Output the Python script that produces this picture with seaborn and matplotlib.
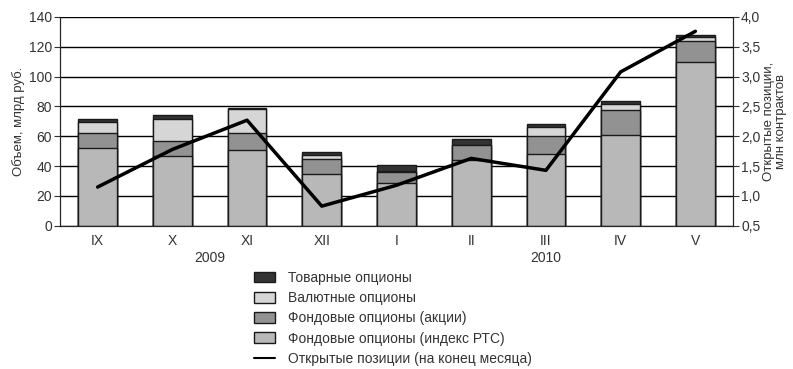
import numpy as np
import pandas as pd
import matplotlib
matplotlib.use('Agg')
import matplotlib.pyplot as plt
import seaborn as sns
from matplotlib.patches import Patch
from matplotlib.lines import Line2D
from matplotlib.ticker import FuncFormatter, MultipleLocator

months = ['IX', 'X', 'XI', 'XII', 'I', 'II', 'III', 'IV', 'V']
index_rts = [52, 47, 51, 35, 29, 44, 48, 61, 110]
stocks = [10, 10, 11, 10, 7, 10, 12.5, 16.5, 14]
currency = [7.5, 14.5, 16, 2.5, 0.5, 0.5, 6, 4, 2.5]
commodity = [2, 2.5, 1, 2, 4.5, 3.5, 2, 2.5, 1.5]
open_pos = [1.15, 1.78, 2.27, 0.83, 1.18, 1.63, 1.43, 3.08, 3.76]

labels = ['Товарные опционы', 'Валютные опционы', 'Фондовые опционы (акции)',
          'Фондовые опционы (индекс РТС)']
line_label = 'Открытые позиции (на конец месяца)'

sns.set_style('white')
plt.rcParams['font.family'] = ['Liberation Sans', 'DejaVu Sans']

df = pd.DataFrame({'month': months, 'index': index_rts, 'stocks': stocks,
                   'currency': currency, 'commodity': commodity})
df['c1'] = df['index']
df['c2'] = df['c1'] + df['stocks']
df['c3'] = df['c2'] + df['currency']
df['c4'] = df['c3'] + df['commodity']

colors = {'c4': '#333333', 'c3': '#d6d6d6', 'c2': '#929292', 'c1': '#b8b8b8'}
txt = '#333333'

fig = plt.figure(figsize=(7.93, 3.69), dpi=100)
ax = fig.add_axes([0.076, 0.388, 0.848, 0.566])

for col in ['c4', 'c3', 'c2', 'c1']:
    sns.barplot(data=df, x='month', y=col, color=colors[col], width=0.52,
                edgecolor='#1a1a1a', linewidth=1, saturation=1, ax=ax)

ax.set_ylim(0, 140)
ax.set_xlim(-0.5, len(months) - 0.5)
ax.yaxis.set_major_locator(MultipleLocator(20))
ax.grid(axis='y', color='black', linewidth=1)
ax.set_axisbelow(True)
ax.set_xlabel('')
ax.set_ylabel('Объем, млрд руб.', fontsize=9.5, color=txt, labelpad=3)
ax.spines['top'].set_visible(False)
for s in ['left', 'bottom', 'right']:
    ax.spines[s].set_color('black')
ax.tick_params(axis='x', length=0, labelsize=10, colors=txt, pad=6)
ax.set_xticks(np.arange(-0.5, len(months) + 0.5), minor=True)
ax.tick_params(axis='x', which='minor', length=5, direction='out', color='black')
ax.tick_params(axis='y', length=4, direction='out', labelsize=10,
               colors=txt, left=True, pad=2)
ax.text(1.5, -0.12, '2009', transform=ax.get_xaxis_transform(),
        ha='center', va='top', fontsize=10, color=txt)
ax.text(6, -0.12, '2010', transform=ax.get_xaxis_transform(),
        ha='center', va='top', fontsize=10, color=txt)

ax2 = ax.twinx()
sns.lineplot(x=np.arange(len(months)), y=open_pos, color='black',
             linewidth=2.5, ax=ax2)
ax2.set_ylim(0.5, 4.0)
ax2.yaxis.set_major_locator(MultipleLocator(0.5))
ax2.yaxis.set_major_formatter(FuncFormatter(lambda v, p: f'{v:.1f}'.replace('.', ',')))
ax2.tick_params(axis='y', length=4, direction='out', labelsize=10,
                colors=txt, right=True, pad=2)
ax2.set_ylabel('Открытые позиции,\nмлн контрактов', fontsize=9.5,
               color=txt, labelpad=2, linespacing=1.0)
ax2.spines['top'].set_visible(False)
ax2.grid(False)

handles = [Patch(facecolor=colors[c], edgecolor='#1a1a1a', linewidth=1)
           for c in ['c4', 'c3', 'c2', 'c1']]
handles.append(Line2D([0], [0], color='black', linewidth=1.5))
fig.legend(handles, labels + [line_label], loc='upper left',
           bbox_to_anchor=(0.312, 0.285), frameon=False, fontsize=10,
           handlelength=1.5, handleheight=0.8, handletextpad=0.9,
           labelspacing=0.45, borderpad=0, labelcolor=txt)

fig.savefig('out.png', dpi=100)
